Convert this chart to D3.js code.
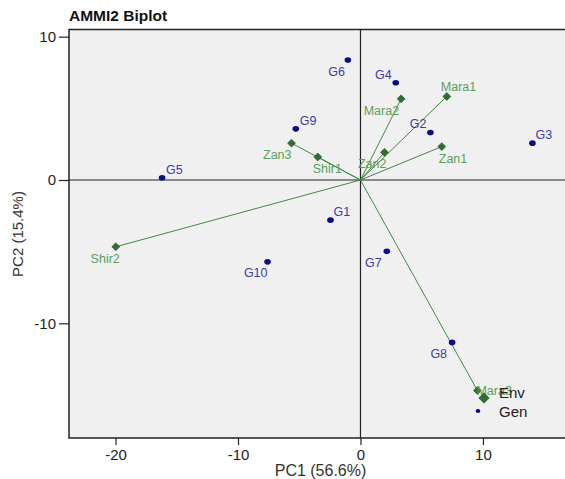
<!DOCTYPE html>
<html><head><meta charset="utf-8">
<script src="https://cdn.jsdelivr.net/npm/d3@7"></script>
<style>
html,body{margin:0;padding:0;background:#fff;}
text{font-family:"Liberation Sans",Arial,sans-serif;}
</style></head>
<body><svg id="c" width="565" height="479"></svg>
<script>
// ---- data ----
const genNames = ["G1","G2","G3","G4","G5","G6","G7","G8","G9","G10"];
const genPC1   = [-2.45, 5.71, 14.04, 2.88, -16.2, -1.03, 2.15, 7.48, -5.28, -7.59];
const genPC2   = [-2.80, 3.31, 2.57, 6.78, 0.16, 8.37, -4.97, -11.33, 3.57, -5.71];
const envNames = ["Mara1","Mara2","Mara3","Shir1","Shir2","Zan1","Zan2","Zan3"];
const envPC1   = [7.05, 3.32, 9.55, -3.49, -19.98, 6.64, 1.96, -5.63];
const envPC2   = [5.83, 5.66, -14.69, 1.61, -4.66, 2.33, 1.93, 2.57];
const xTicks = [-20,-10,0,10];
const yTicks = [-10,0,10];
const legendItems = ["Env","Gen"];

// label placement (pixel offsets, anchor)
const labelPlace = {
  G1:[3,-4,"start"], G2:[-4,-5,"end"], G3:[3,-4,"start"], G4:[-4,-4,"end"],
  G5:[4,-4,"start"], G6:[-3,16,"end"], G7:[-5,16,"end"], G8:[-5,16,"end"],
  G9:[4,-4,"start"], G10:[0,15,"end"],
  Mara1:[-6,-5,"start"], Mara2:[-2,16,"end"], Mara3:[-1,4,"start"],
  Shir1:[-5,16,"start"], Shir2:[4,16,"end"], Zan1:[-3,16,"start"],
  Zan2:[2,16,"end"], Zan3:[0,16,"end"]
};

const svg = d3.select("#c");
const L=69, T=29.5, R=565, B=438;
const x = d3.scaleLinear().domain([-23.8,16.7]).range([L,R]);
const y = d3.scaleLinear().domain([-18.0,10.5]).range([B,T]);

svg.append("rect").attr("x",L).attr("y",T).attr("width",R-L).attr("height",B-T).attr("fill","#f0f0f0");

// frame (left, top, bottom)
svg.append("path").attr("d",`M${R},${T}H${L}V${B}H${R}`).attr("fill","none").attr("stroke","#222").attr("stroke-width",1.5);

// reference lines
svg.append("line").attr("x1",x(0)).attr("x2",x(0)).attr("y1",T).attr("y2",B).attr("stroke","#222").attr("stroke-width",1.2);
svg.append("line").attr("x1",L).attr("x2",R).attr("y1",y(0)).attr("y2",y(0)).attr("stroke","#222").attr("stroke-width",1.2);

// axes
const fmt = d => String(d);
const xAxis = svg.append("g").attr("transform",`translate(0,${B})`)
  .call(d3.axisBottom(x).tickValues(xTicks).tickSize(7).tickPadding(4).tickFormat(fmt));
const yAxis = svg.append("g").attr("transform",`translate(${L},0)`)
  .call(d3.axisLeft(y).tickValues(yTicks).tickSize(10).tickPadding(3).tickFormat(fmt));
[xAxis,yAxis].forEach(a=>{
  a.select(".domain").remove();
  a.selectAll(".tick line").attr("stroke","#222").attr("stroke-width",1.2);
  a.selectAll(".tick text").attr("fill","#222").style("font-size","15px").style("font-family","Liberation Sans,Arial,sans-serif");
});

// titles
svg.append("text").attr("x",L).attr("y",21).attr("font-weight","bold").attr("font-size",15.5).attr("fill","#111").text("AMMI2 Biplot");
svg.append("text").attr("x",(272+369)/2).attr("y",476).attr("text-anchor","middle").attr("font-size",16).attr("fill","#333").text("PC1 (56.6%)");
svg.append("text").attr("transform","translate(23,234) rotate(-90)").attr("text-anchor","middle").attr("font-size",15).attr("fill","#333").text("PC2 (15.4%)");

// env vectors
const env = envNames.map((n,i)=>({n, a:envPC1[i], b:envPC2[i]}));
const gen = genNames.map((n,i)=>({n, a:genPC1[i], b:genPC2[i]}));

svg.append("g").selectAll("line").data(env).join("line")
  .attr("x1",x(0)).attr("y1",y(0)).attr("x2",d=>x(d.a)).attr("y2",d=>y(d.b))
  .attr("stroke","#3f8a3f").attr("stroke-width",1);

const diamond = d3.symbol().type(d3.symbolDiamond2);
svg.append("g").selectAll("path").data(env).join("path")
  .attr("transform",d=>`translate(${x(d.a)},${y(d.b)})`)
  .attr("d",diamond.size(40)()).attr("fill","#2f6e2f").attr("stroke","#1f4f1f").attr("stroke-width",0.6);

svg.append("g").selectAll("ellipse").data(gen).join("ellipse")
  .attr("cx",d=>x(d.a)).attr("cy",d=>y(d.b)).attr("rx",3.3).attr("ry",2.8)
  .attr("fill","#0a0a8c");

svg.append("g").selectAll("text").data(gen).join("text")
  .attr("x",d=>x(d.a)+labelPlace[d.n][0]).attr("y",d=>y(d.b)+labelPlace[d.n][1])
  .attr("text-anchor",d=>labelPlace[d.n][2]).attr("font-size",12.5).attr("fill","#3c3ca8").text(d=>d.n);

svg.append("g").selectAll("text").data(env).join("text")
  .attr("x",d=>x(d.a)+labelPlace[d.n][0]).attr("y",d=>y(d.b)+labelPlace[d.n][1])
  .attr("text-anchor",d=>labelPlace[d.n][2]).attr("font-size",12.5).attr("fill","#5c9e5c").text(d=>d.n);

// legend
const lg = svg.append("g");
lg.append("path").attr("transform","translate(484,398)").attr("d",d3.symbol().type(d3.symbolDiamond2).size(70)())
  .attr("fill","#2f6e2f").attr("stroke","#1f4f1f").attr("stroke-width",0.6);
lg.append("ellipse").attr("cx",478).attr("cy",411).attr("rx",2.3).attr("ry",2).attr("fill","#0a0a8c");
lg.selectAll("text").data(legendItems).join("text")
  .attr("x",499).attr("y",(d,i)=>398+i*19).attr("font-size",15).attr("fill","#222").text(d=>d);
</script></body></html>
